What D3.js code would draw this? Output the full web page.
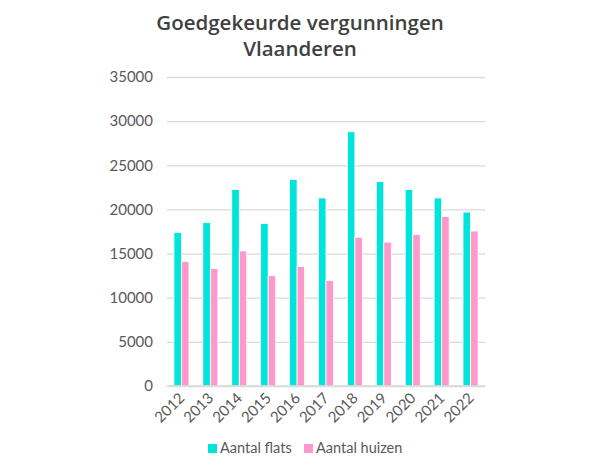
<!DOCTYPE html>
<html><head><meta charset="utf-8">
<script src="https://cdn.jsdelivr.net/npm/d3@7"></script>
<style>body{margin:0;background:#fff}svg{display:block}</style>
</head><body><svg id="c" width="600" height="468"></svg>
<script>
const years = ["2012","2013","2014","2015","2016","2017","2018","2019","2020","2021","2022"];
const flats = [17400,18500,22250,18400,23400,21300,28800,23150,22250,21300,19700];
const huizen = [14100,13300,15300,12500,13550,11950,16850,16300,17150,19200,17550];
const seriesNames = ["Aantal flats","Aantal huizen"];
const colors = ["#00E4DC","#FF99CB"];
const yTicks = [0,5000,10000,15000,20000,25000,30000,35000];

(function(){
const svg = d3.select("#c");
const mLeft = 167, mRight = 485, mTop = 77, mBottom = 386;
const font = "Lato, 'Open Sans', sans-serif";
const tfont = "'Open Sans', sans-serif";

const x0 = d3.scaleBand().domain(years).range([mLeft,mRight]).paddingInner(0.48).paddingOuter(0.24);
const x1 = d3.scaleBand().domain([0,1]).range([0,x0.bandwidth()]);
const y = d3.scaleLinear().domain([0,35000]).range([mBottom,mTop]);

// title
[["Goedgekeurde vergunningen",30],["Vlaanderen",56]].forEach(([t,yy])=>{
  svg.append("text").attr("x",300).attr("y",yy).attr("text-anchor","middle")
    .attr("font-family",tfont).attr("font-weight",600).attr("font-size",20.5).attr("fill","#404040")
    .text(t);
});

// grid + y axis
const ya = svg.append("g").attr("transform",`translate(${mLeft},0)`)
  .call(d3.axisLeft(y).tickValues(yTicks).tickSize(-(mRight-mLeft)).tickPadding(14).tickFormat(d3.format("d")));
ya.select(".domain").remove();
ya.selectAll(".tick line").attr("stroke","#d9d9d9").attr("stroke-width",1.3);
ya.selectAll(".tick text").attr("font-family",font).attr("font-size",15).attr("fill","#595959");

// bars
const data = years.map((yr,i)=>({yr, vals:[flats[i],huizen[i]]}));
const g = svg.append("g").selectAll("g").data(data).join("g")
  .attr("transform",d=>`translate(${x0(d.yr)},0)`);
g.selectAll("rect").data(d=>d.vals.map((v,k)=>({k,v}))).join("rect")
  .attr("x",d=>x1(d.k)).attr("width",x1.bandwidth())
  .attr("y",d=>y(d.v)).attr("height",d=>y(0)-y(d.v))
  .attr("fill",d=>colors[d.k]).attr("stroke","#fff").attr("stroke-width",0.8);

// baseline
svg.append("line").attr("x1",mLeft).attr("x2",mRight).attr("y1",mBottom).attr("y2",mBottom)
  .attr("stroke","#d9d9d9").attr("stroke-width",1.3);

// x labels
const xa = svg.append("g").attr("transform",`translate(0,${mBottom})`)
  .call(d3.axisBottom(x0).tickSize(0).tickPadding(0));
xa.select(".domain").remove();
xa.selectAll(".tick text").attr("font-family",font).attr("font-size",15).attr("fill","#595959")
  .attr("text-anchor","end").attr("dy",0)
  .attr("transform","translate(4,13) rotate(-45)");

// legend
const leg = svg.append("g");
const lx = [208,304];
seriesNames.forEach((n,i)=>{
  leg.append("rect").attr("x",lx[i]).attr("y",444).attr("width",9).attr("height",9).attr("fill",colors[i]);
  leg.append("text").attr("x",lx[i]+12).attr("y",453).attr("font-family",font).attr("font-size",14.5)
    .attr("fill","#595959").text(n);
});
})();
</script></body></html>
